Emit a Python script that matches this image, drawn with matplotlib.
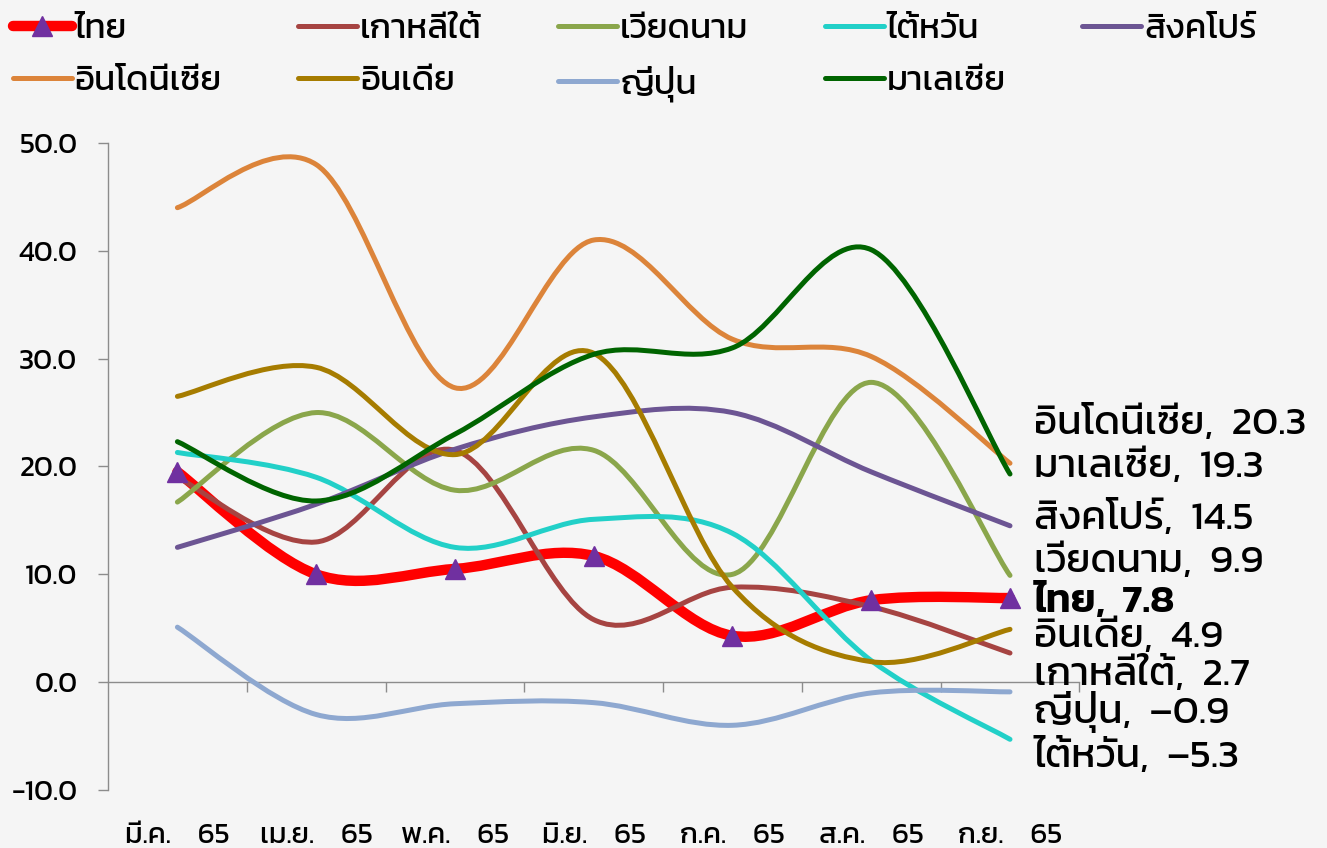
import matplotlib
matplotlib.use('Agg')
import matplotlib.pyplot as plt
from matplotlib.path import Path
from matplotlib.patches import PathPatch
from matplotlib.lines import Line2D
import numpy as np

plt.rcParams['font.family'] = ['Kanit', 'DejaVu Sans']
plt.rcParams['font.weight'] = 'normal'
plt.rcParams['axes.unicode_minus'] = False

# months
months = ['มี.ค.    65', 'เม.ย.    65', 'พ.ค.    65', 'มิ.ย.    65',
          'ก.ค.    65', 'ส.ค.    65', 'ก.ย.    65']

# export growth (%YoY)
thai      = [19.5, 10.0, 10.5, 11.7, 4.3, 7.6, 7.8]
korea     = [19.0, 13.0, 21.5, 5.8, 8.8, 7.0, 2.7]
vietnam   = [16.7, 25.0, 17.8, 21.5, 10.0, 27.8, 9.9]
taiwan    = [21.3, 19.0, 12.5, 15.1, 13.8, 2.0, -5.3]
singapore = [12.5, 16.5, 21.6, 24.6, 25.0, 19.5, 14.5]
indonesia = [44.0, 48.0, 27.3, 41.0, 31.8, 30.2, 20.3]
india     = [26.5, 29.2, 21.1, 30.5, 8.8, 1.9, 4.9]
japan     = [5.1, -3.0, -2.0, -1.9, -4.0, -1.0, -0.9]
malaysia  = [22.3, 16.8, 23.0, 30.4, 31.0, 40.1, 19.3]

names = ['ไทย', 'เกาหลีใต้', 'เวียดนาม', 'ไต้หวัน', 'สิงคโปร์',
         'อินโดนีเซีย', 'อินเดีย', 'ญี่ปุ่น', 'มาเลเซีย']
series = [thai, korea, vietnam, taiwan, singapore, indonesia, india, japan, malaysia]
colors = ['#FF0000', '#A64442', '#8AA64B', '#22D0C8', '#6C5593',
          '#DC843A', '#A67C00', '#8EA8D0', '#006400']

# where the end labels sit (y, data units)
label_y = {'อินโดนีเซีย': 24.0, 'มาเลเซีย': 20.0, 'สิงคโปร์': 15.2, 'เวียดนาม': 11.2,
           'ไทย': 7.5, 'อินเดีย': 4.2, 'เกาหลีใต้': 0.7, 'ญี่ปุ่น': -2.8, 'ไต้หวัน': -6.9}


def smooth(xs, ys):
    # excel-ish smoothed line as cubic bezier segments
    p = np.column_stack([xs, ys]).astype(float)
    verts = [p[0]]
    codes = [Path.MOVETO]
    n = len(p)
    for i in range(n - 1):
        p0 = p[i - 1] if i > 0 else p[i]
        p3 = p[i + 2] if i + 2 < n else p[i + 1]
        c1 = p[i] + (p[i + 1] - p0) / 6.0
        c2 = p[i + 1] - (p3 - p[i]) / 6.0
        verts += [c1, c2, p[i + 1]]
        codes += [Path.CURVE4] * 3
    return Path(verts, codes)


bg = '#F5F5F5'
grey = '#8C8C8C'
fig = plt.figure(figsize=(13.27, 8.48), dpi=100, facecolor=bg)
ax = fig.add_axes([0.0814, 0.0684, 0.732, 0.763], facecolor=bg)

x = np.arange(len(months))
handles = []
for name, vals, col in zip(names, series, colors):
    lw = 7.5 if name == 'ไทย' else 3.6
    ax.add_patch(PathPatch(smooth(x, vals), fill=False, edgecolor=col, lw=lw,
                           capstyle='round', joinstyle='round'))
    if name == 'ไทย':
        ax.plot(x, vals, linestyle='none', marker='^', ms=15, color='#7030A0', zorder=5)
        handles.append(Line2D([], [], color=col, lw=lw, marker='^', ms=15,
                              mfc='#7030A0', mec='#7030A0', solid_capstyle='round'))
    else:
        handles.append(Line2D([], [], color=col, lw=lw, solid_capstyle='round'))

    txt = '%s,  %s' % (name, ('%.1f' % vals[-1]).replace('-', '–'))
    ax.annotate(txt, xy=(x[-1], label_y[name]), xytext=(17, 0), textcoords='offset points',
                va='center', ha='left', fontsize=29, annotation_clip=False,
                fontweight='semibold' if name == 'ไทย' else 'normal')

ax.set_xlim(-0.5, len(months) - 0.5)
ax.set_ylim(-10, 50)
ax.set_yticks(np.arange(-10, 51, 10))
ax.set_yticklabels(['%.1f' % v for v in np.arange(-10, 51, 10)], fontsize=21)
ax.tick_params(axis='y', direction='out', length=7, width=1, color=grey, pad=15)

ax.set_xticks(x)
ax.set_xticklabels(months, fontsize=21)
ax.tick_params(axis='x', length=0, pad=24)

for s in ['top', 'right', 'bottom']:
    ax.spines[s].set_visible(False)
ax.spines['left'].set_color(grey)
ax.spines['left'].set_linewidth(1)

# category axis drawn at y = 0
zero_axis = ax.secondary_xaxis((0 - (-10)) / 60.0)
zero_axis.set_xticks(np.arange(0.5, len(months), 1.0))
zero_axis.set_xticklabels([])
zero_axis.tick_params(direction='out', length=7, width=1, color=grey)
zero_axis.spines['bottom'].set_color(grey)
zero_axis.spines['bottom'].set_linewidth(1)

# legend in row order -> column order for ncol=5
order = [0, 5, 1, 6, 2, 7, 3, 8, 4]
fig.legend([handles[i] for i in order], [names[i] for i in order], ncol=5,
           loc='upper left', bbox_to_anchor=(-0.006, 1.008), frameon=False,
           fontsize=25, handlelength=1.7, handletextpad=0.08, columnspacing=2.2,
           labelspacing=0.58, borderaxespad=0.2)

fig.savefig('out.png', facecolor=bg)
